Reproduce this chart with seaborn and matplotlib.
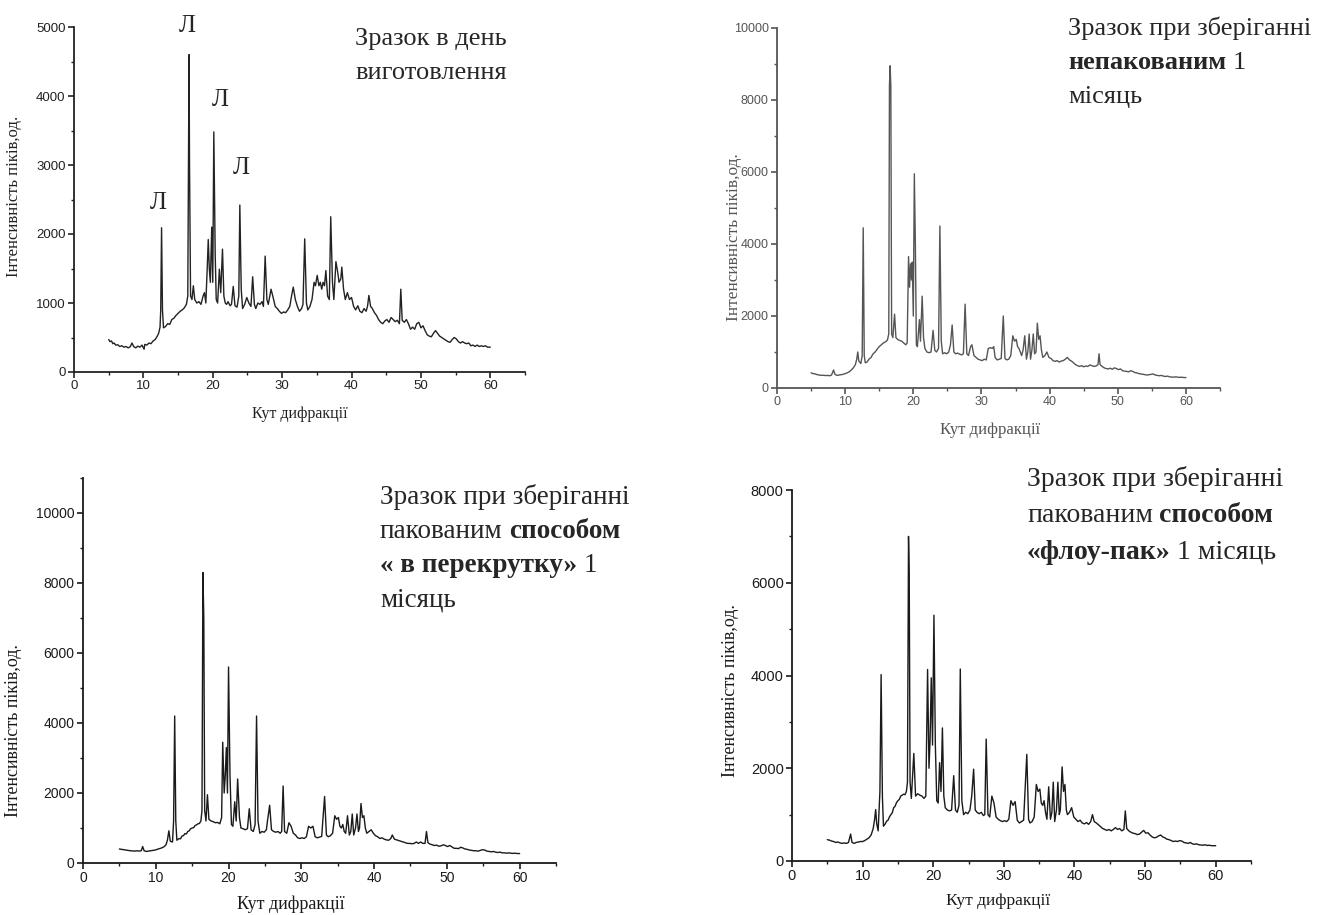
import matplotlib
matplotlib.use("Agg")
import matplotlib.pyplot as plt
from matplotlib.ticker import MultipleLocator
import seaborn as sns
import pandas as pd

# XRD patterns: (angle, intensity)
day0 = [(5.0,470),(5.2,440),(5.4,450),(5.6,410),(5.8,420),(6.0,390),(6.3,395),(6.6,370),(6.9,380),(7.2,360),(7.5,370),(7.8,350),(8.1,365),(8.35,420),(8.6,370),(8.9,350),(9.2,375),(9.5,360),(9.8,390),(10.1,330),(10.2,400),(10.5,390),(10.8,420),(11.1,410),(11.4,450),(11.7,470),(12.0,520),(12.2,560),(12.4,650),(12.5,900),(12.62,2090),(12.75,900),(12.9,640),(13.2,660),(13.5,700),(13.8,690),(14.1,760),(14.4,780),(14.7,820),(15.0,850),(15.3,880),(15.6,900),(15.9,930),(16.2,980),(16.4,1100),(16.5,3000),(16.58,4600),(16.65,3000),(16.8,1100),(17.0,1050),(17.2,1250),(17.4,1050),(17.7,1000),(18.0,1020),(18.3,980),(18.6,1100),(18.8,1150),(19.0,1000),(19.2,1500),(19.35,1920),(19.5,1500),(19.65,1300),(19.85,2100),(20.0,1300),(20.15,3480),(20.35,1700),(20.5,1050),(20.7,1000),(20.95,1490),(21.15,1150),(21.4,1780),(21.6,1100),(21.8,1000),(22.0,980),(22.2,1020),(22.5,960),(22.7,980),(22.95,1240),(23.2,960),(23.5,940),(23.75,1100),(23.9,2420),(24.1,1200),(24.3,920),(24.6,980),(24.9,1080),(25.2,1000),(25.5,950),(25.75,1380),(26.0,980),(26.2,920),(26.5,1000),(26.8,980),(27.1,1020),(27.3,950),(27.55,1680),(27.8,1050),(28.0,980),(28.4,1200),(28.7,1080),(29.0,950),(29.3,920),(29.6,880),(29.9,850),(30.2,870),(30.5,860),(30.8,900),(31.1,950),(31.35,1100),(31.6,1230),(31.9,1050),(32.2,950),(32.5,880),(32.8,920),(33.0,980),(33.25,1930),(33.5,1000),(33.7,900),(34.0,950),(34.3,1050),(34.6,1300),(34.8,1250),(35.05,1400),(35.3,1250),(35.5,1300),(35.7,1200),(35.9,1300),(36.1,1250),(36.3,1470),(36.55,1100),(36.8,1050),(37.0,2250),(37.25,1300),(37.45,1050),(37.75,1600),(38.0,1450),(38.2,1300),(38.45,1350),(38.6,1520),(38.85,1200),(39.1,1050),(39.4,1150),(39.7,1050),(40.0,1080),(40.3,950),(40.6,900),(40.9,960),(41.2,880),(41.5,860),(41.8,920),(42.1,880),(42.3,950),(42.5,1110),(42.75,950),(43.0,920),(43.3,860),(43.6,820),(43.9,760),(44.2,720),(44.5,700),(44.8,740),(45.1,760),(45.4,720),(45.7,790),(46.0,760),(46.3,730),(46.6,750),(46.9,700),(47.1,1200),(47.3,750),(47.6,720),(47.9,760),(48.2,700),(48.5,620),(48.8,650),(49.1,620),(49.4,700),(49.7,720),(50.0,640),(50.3,670),(50.6,600),(50.9,540),(51.2,520),(51.5,510),(51.8,560),(52.1,600),(52.4,560),(52.7,520),(53.0,500),(53.3,480),(53.6,460),(53.9,440),(54.2,430),(54.5,470),(54.8,500),(55.1,480),(55.4,440),(55.7,420),(56.0,440),(56.3,420),(56.6,410),(56.9,420),(57.2,380),(57.5,390),(57.8,370),(58.1,390),(58.4,370),(58.7,380),(59.0,370),(59.3,380),(59.6,360),(60.0,360)]

unpacked = [(5.0,420),(5.3,400),(5.6,390),(5.9,370),(6.2,360),(6.5,350),(6.8,355),(7.1,345),(7.4,350),(7.7,340),(8.0,360),(8.3,500),(8.5,380),(8.8,350),(9.1,360),(9.4,370),(9.7,380),(10.0,400),(10.3,420),(10.6,450),(10.9,500),(11.2,560),(11.5,650),(11.7,800),(11.85,1000),(12.0,750),(12.3,680),(12.5,900),(12.65,4450),(12.8,900),(12.95,700),(13.2,720),(13.5,800),(13.8,850),(14.1,950),(14.4,1000),(14.7,1080),(15.0,1150),(15.3,1200),(15.6,1250),(15.9,1280),(16.2,1330),(16.4,1500),(16.5,8400),(16.6,8950),(16.7,8400),(16.82,1500),(17.0,1400),(17.25,2050),(17.45,1400),(17.7,1350),(18.0,1320),(18.3,1300),(18.6,1250),(18.9,1200),(19.1,1250),(19.3,3650),(19.45,2800),(19.6,3450),(19.75,3000),(19.85,3500),(20.0,2000),(20.15,5950),(20.3,4000),(20.45,1200),(20.6,1150),(20.9,1900),(21.05,1300),(21.3,2550),(21.5,1400),(21.7,1100),(22.0,1000),(22.3,980),(22.6,1000),(22.9,1600),(23.15,1050),(23.4,1000),(23.7,1100),(23.9,4500),(24.1,1300),(24.3,950),(24.6,980),(24.9,950),(25.2,1000),(25.45,1200),(25.7,1750),(25.95,1000),(26.2,950),(26.5,970),(26.8,940),(27.1,920),(27.35,950),(27.6,2330),(27.85,950),(28.1,900),(28.4,1150),(28.6,1200),(28.9,900),(29.2,850),(29.5,800),(29.8,780),(30.1,760),(30.4,800),(30.7,780),(31.0,1100),(31.3,1120),(31.6,1100),(31.8,1150),(32.0,850),(32.3,780),(32.6,800),(32.9,820),(33.2,2000),(33.45,820),(33.7,780),(34.0,800),(34.3,900),(34.6,1450),(34.85,1300),(35.1,1350),(35.3,1150),(35.5,1100),(35.7,1000),(35.9,900),(36.1,1050),(36.35,1450),(36.6,800),(36.8,1000),(37.0,1500),(37.2,800),(37.4,1050),(37.6,1500),(37.8,950),(38.0,1000),(38.2,1800),(38.4,1350),(38.6,1450),(38.8,1050),(39.0,850),(39.3,900),(39.6,1000),(39.9,850),(40.2,820),(40.5,760),(40.8,740),(41.1,760),(41.4,720),(41.7,750),(42.0,760),(42.3,800),(42.6,850),(42.9,780),(43.2,750),(43.5,700),(43.8,650),(44.1,620),(44.4,600),(44.7,620),(45.0,590),(45.3,610),(45.6,600),(45.9,640),(46.2,620),(46.5,600),(46.8,610),(47.1,650),(47.25,950),(47.4,650),(47.7,600),(48.0,560),(48.3,540),(48.6,530),(48.9,550),(49.2,520),(49.5,560),(49.8,540),(50.1,510),(50.4,530),(50.7,480),(51.0,470),(51.3,460),(51.6,450),(51.9,480),(52.2,460),(52.5,430),(52.8,420),(53.1,400),(53.4,390),(53.7,380),(54.0,370),(54.3,360),(54.6,370),(54.9,380),(55.2,390),(55.5,360),(55.8,350),(56.1,340),(56.4,350),(56.7,330),(57.0,320),(57.3,330),(57.6,310),(57.9,305),(58.2,300),(58.5,310),(58.8,300),(59.1,295),(59.4,300),(59.7,290),(60.0,290)]

twist = [(5.0,400),(5.3,390),(5.6,380),(5.9,370),(6.2,360),(6.5,350),(6.8,345),(7.1,340),(7.4,350),(7.7,340),(8.0,350),(8.2,470),(8.4,350),(8.7,330),(9.0,340),(9.3,350),(9.6,360),(9.9,370),(10.2,390),(10.5,410),(10.8,430),(11.1,460),(11.4,520),(11.6,650),(11.8,920),(12.0,620),(12.3,600),(12.45,1200),(12.6,4200),(12.75,1200),(12.9,650),(13.2,700),(13.4,690),(13.6,770),(13.8,780),(14.0,840),(14.2,830),(14.4,900),(14.6,920),(14.8,980),(15.0,1000),(15.2,1010),(15.4,1070),(15.6,1090),(15.8,1120),(16.0,1130),(16.2,1200),(16.35,1500),(16.48,8300),(16.6,7000),(16.72,1500),(16.9,1200),(17.1,1950),(17.3,1250),(17.6,1200),(17.9,1180),(18.2,1150),(18.5,1160),(18.8,1120),(19.05,1300),(19.2,3450),(19.4,2000),(19.55,2500),(19.7,3300),(19.85,2000),(20.0,5600),(20.2,2500),(20.4,1100),(20.6,1050),(20.85,1750),(21.05,1200),(21.25,2400),(21.5,1300),(21.7,1000),(22.0,980),(22.3,950),(22.6,980),(22.85,1550),(23.1,950),(23.4,900),(23.65,1100),(23.85,4200),(24.05,1200),(24.3,850),(24.6,900),(24.9,880),(25.2,950),(25.35,1200),(25.65,1650),(25.9,950),(26.2,900),(26.5,880),(26.8,900),(27.1,850),(27.3,900),(27.5,2200),(27.7,900),(28.0,850),(28.3,1150),(28.6,1050),(28.9,850),(29.2,800),(29.5,720),(29.8,700),(30.1,720),(30.4,700),(30.7,750),(31.0,1050),(31.3,1000),(31.6,1050),(31.9,750),(32.2,720),(32.5,740),(32.8,760),(33.2,1900),(33.45,800),(33.7,750),(34.0,780),(34.3,850),(34.6,1350),(34.85,1250),(35.1,1300),(35.3,1050),(35.5,1000),(35.7,1100),(35.9,900),(36.1,850),(36.35,1350),(36.6,800),(36.8,900),(37.0,1400),(37.2,800),(37.45,1000),(37.65,1400),(37.85,900),(38.0,1000),(38.2,1700),(38.4,1300),(38.6,1350),(38.8,1000),(39.0,850),(39.3,900),(39.6,950),(39.9,850),(40.2,780),(40.5,750),(40.8,700),(41.1,720),(41.4,680),(41.7,660),(42.0,650),(42.3,700),(42.5,800),(42.8,680),(43.1,660),(43.4,640),(43.7,620),(44.0,600),(44.3,580),(44.6,560),(44.9,560),(45.2,550),(45.5,560),(45.8,600),(46.1,560),(46.4,600),(46.7,560),(47.0,560),(47.2,900),(47.4,580),(47.7,540),(48.0,520),(48.3,500),(48.6,510),(48.9,480),(49.2,490),(49.5,520),(49.8,500),(50.1,470),(50.4,500),(50.7,460),(51.0,420),(51.3,420),(51.6,410),(51.9,450),(52.2,430),(52.5,400),(52.8,390),(53.1,370),(53.4,360),(53.7,350),(54.0,350),(54.3,340),(54.6,360),(54.9,380),(55.2,370),(55.5,340),(55.8,330),(56.1,320),(56.4,330),(56.7,310),(57.0,300),(57.3,310),(57.6,290),(57.9,290),(58.2,280),(58.5,290),(58.8,280),(59.1,275),(59.4,280),(59.7,270),(60.0,270)]

flowpack = [(5.0,460),(5.3,450),(5.6,430),(5.9,420),(6.2,400),(6.5,410),(6.8,390),(7.1,380),(7.4,390),(7.7,380),(8.0,400),(8.3,580),(8.5,400),(8.8,380),(9.1,400),(9.4,410),(9.7,420),(10.0,420),(10.3,440),(10.6,470),(10.9,500),(11.2,560),(11.5,700),(11.7,900),(11.85,1110),(12.0,800),(12.2,650),(12.45,1500),(12.62,4020),(12.8,1400),(12.95,750),(13.2,800),(13.4,860),(13.6,880),(13.8,950),(14.0,1000),(14.2,1040),(14.4,1150),(14.6,1180),(14.8,1260),(15.0,1300),(15.2,1330),(15.4,1400),(15.6,1420),(15.8,1440),(16.0,1430),(16.2,1500),(16.35,1700),(16.5,7000),(16.6,6200),(16.72,1700),(16.9,1350),(17.25,2320),(17.5,1400),(17.8,1450),(18.1,1420),(18.4,1400),(18.7,1350),(18.95,1400),(19.2,4130),(19.4,2000),(19.55,2600),(19.72,3950),(19.9,2500),(20.1,5300),(20.3,2500),(20.5,1300),(20.7,1250),(20.9,2120),(21.1,1500),(21.3,2870),(21.5,1400),(21.7,1150),(22.0,1100),(22.3,1080),(22.6,1100),(22.9,1840),(23.15,1100),(23.4,1050),(23.65,1200),(23.83,4140),(24.05,1300),(24.3,1000),(24.6,1050),(24.9,1020),(25.2,1100),(25.45,1400),(25.72,1980),(25.95,1100),(26.2,1050),(26.5,1020),(26.8,1050),(27.1,980),(27.3,1000),(27.5,2630),(27.75,1000),(28.0,950),(28.3,1400),(28.6,1250),(28.9,950),(29.2,900),(29.5,870),(29.8,850),(30.1,870),(30.4,850),(30.7,900),(31.0,1300),(31.3,1200),(31.6,1280),(31.9,880),(32.2,820),(32.5,850),(32.8,880),(33.25,2300),(33.5,900),(33.7,820),(34.0,850),(34.3,950),(34.6,1650),(34.85,1500),(35.1,1550),(35.3,1250),(35.5,1200),(35.7,1300),(35.9,1050),(36.1,900),(36.35,1600),(36.6,900),(36.8,1050),(37.0,1700),(37.2,850),(37.45,1100),(37.65,1700),(37.85,1000),(38.0,1100),(38.25,2030),(38.45,1500),(38.65,1650),(38.85,1100),(39.0,1000),(39.3,1050),(39.6,1150),(39.9,950),(40.2,900),(40.5,850),(40.8,880),(41.1,820),(41.4,800),(41.7,830),(42.0,790),(42.3,850),(42.55,1000),(42.8,850),(43.1,820),(43.4,780),(43.7,740),(44.0,700),(44.3,680),(44.6,660),(44.9,680),(45.2,650),(45.5,680),(45.8,720),(46.1,680),(46.4,700),(46.7,650),(47.0,680),(47.2,1080),(47.4,700),(47.7,650),(48.0,620),(48.3,600),(48.6,590),(48.9,570),(49.2,580),(49.5,620),(49.8,660),(50.1,600),(50.4,610),(50.7,560),(51.0,520),(51.3,500),(51.6,510),(51.9,540),(52.2,560),(52.5,520),(52.8,500),(53.1,470),(53.4,460),(53.7,440),(54.0,420),(54.3,430),(54.6,420),(54.9,440),(55.2,430),(55.5,400),(55.8,390),(56.1,380),(56.4,400),(56.7,370),(57.0,360),(57.3,370),(57.6,350),(57.9,345),(58.2,340),(58.5,350),(58.8,335),(59.1,340),(59.4,330),(59.7,330),(60.0,330)]

xlabel = "Кут дифракції"
ylabel = "Інтенсивність піків,од."
peak_marks = ["Л", "Л", "Л", "Л"]

W, H = 1317, 915
SERIF = "Liberation Serif"
SANS = "Liberation Sans"

sns.set_style("ticks")
plt.rcParams["font.family"] = [SANS, "DejaVu Sans"]

fig = plt.figure(figsize=(W / 100, H / 100), dpi=100)


def px_axes(left, top, right, bottom):
    ax = fig.add_axes([left / W, 1 - bottom / H, (right - left) / W, (bottom - top) / H])
    ax.patch.set_visible(False)
    return ax


def draw_panel(ax, data, ymax, ymajor, yminor, color, tsize, lsize, lcoords):
    df = pd.DataFrame(data, columns=["angle", "intensity"])
    sns.lineplot(data=df, x="angle", y="intensity", ax=ax, color=color,
                 linewidth=1.0, sort=False, estimator=None)
    ax.set_xlim(0, 65)
    ax.set_ylim(0, ymax)
    ax.xaxis.set_major_locator(MultipleLocator(10))
    ax.xaxis.set_minor_locator(MultipleLocator(5))
    ax.yaxis.set_major_locator(MultipleLocator(ymajor))
    ax.yaxis.set_minor_locator(MultipleLocator(yminor))
    sns.despine(ax=ax)
    for s in ("left", "bottom"):
        ax.spines[s].set_linewidth(1.3)
        ax.spines[s].set_color(color)
    ax.tick_params(which="major", direction="out", length=4, width=1.2,
                   labelsize=tsize, colors=color, pad=2)
    ax.tick_params(which="minor", direction="out", length=2.5, width=1.0, colors=color)
    ax.set_xlabel(xlabel, family=SERIF, fontsize=lsize[0], color=color)
    ax.set_ylabel(ylabel, family=SERIF, fontsize=lsize[1], color=color)
    ax.xaxis.set_label_coords(lcoords[0], lcoords[1])
    ax.yaxis.set_label_coords(lcoords[2], lcoords[3])


ax1 = px_axes(74, 27, 525, 372)
draw_panel(ax1, day0, 5000, 1000, 500, "#222222", 9.5, (11.5, 12), (0.50, -0.1, -0.115, 0.51))

ax2 = px_axes(777, 28, 1220, 388)
draw_panel(ax2, unpacked, 10000, 2000, 1000, "#555555", 9, (12, 12.5), (0.48, -0.095, -0.08, 0.42))

ax3 = px_axes(83, 478, 556, 863)
draw_panel(ax3, twist, 11000, 2000, 1000, "#1a1a1a", 10, (13, 13), (0.44, -0.085, -0.13, 0.345))

ax4 = px_axes(792, 490, 1251, 861)
draw_panel(ax4, flowpack, 8000, 2000, 1000, "#1a1a1a", 10.5, (12.5, 13), (0.45, -0.085, -0.115, 0.46))

# peak marks over the first pattern
for (px, py), m in zip([(187, 26), (220, 100), (241, 168), (158, 203)], peak_marks):
    fig.text(px / W, 1 - py / H, m, family=SERIF, fontsize=18, ha="center", va="center")


def rich_line(x, y, parts, size=19):
    prev = None
    for txt, bold in parts:
        w = "bold" if bold else "normal"
        if prev is None:
            prev = fig.text(x / W, 1 - y / H, txt, family=SERIF, fontsize=size,
                            fontweight=w, ha="left", va="baseline")
        else:
            prev = ax4.annotate(txt, xy=(1, 0), xycoords=prev, xytext=(4.5, 0),
                                textcoords="offset points", family=SERIF, fontsize=size,
                                fontweight=w, ha="left", va="bottom", annotation_clip=False)


rich_line(355, 45, [("Зразок в день", False)])
rich_line(355, 79, [("виготовлення", False)])

rich_line(1068, 35, [("Зразок при зберіганні", False)])
rich_line(1068, 69, [("непакованим", True), ("1", False)])
rich_line(1068, 103, [("місяць", False)])

rich_line(380, 504, [("Зразок при зберіганні", False)], 19.5)
rich_line(380, 538, [("пакованим", False), ("способом", True)], 19.5)
rich_line(380, 572, [("« в перекрутку»", True), ("1", False)], 19.5)
rich_line(380, 606, [("місяць", False)], 19.5)

rich_line(1027, 486, [("Зразок при зберіганні", False)], 20)
rich_line(1027, 522, [("пакованим", False), ("способом", True)], 20)
rich_line(1027, 559, [("«флоу-пак»", True), ("1 місяць", False)], 20)

fig.savefig("out.png", dpi=100)
